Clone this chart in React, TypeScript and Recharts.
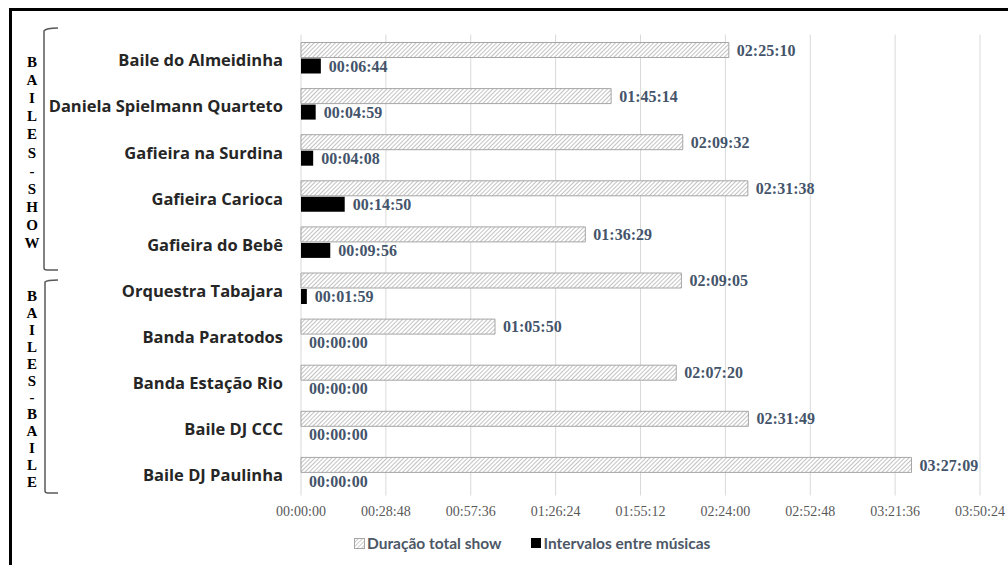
import { BarChart, Bar, XAxis, YAxis, CartesianGrid, LabelList } from 'recharts'

// ─── Data (seconds) ───────────────────────────────────────────────────────────

const categories = [
  'Baile do Almeidinha',
  'Daniela Spielmann Quarteto',
  'Gafieira na Surdina',
  'Gafieira Carioca',
  'Gafieira do Bebê',
  'Orquestra Tabajara',
  'Banda Paratodos',
  'Banda Estação Rio',
  'Baile DJ CCC',
  'Baile DJ Paulinha',
]

// Duração total show
const totalShow = [8710, 6314, 7772, 9098, 5789, 7745, 3950, 7640, 9109, 12429]
// Intervalos entre músicas
const intervals = [404, 299, 248, 890, 596, 119, 0, 0, 0, 0]

const xTicks = [0, 1728, 3456, 5184, 6912, 8640, 10368, 12096, 13824]

const groupShow = 'BAILES-SHOW'
const groupBaile = 'BAILES-BAILE'

// ─── Colours ──────────────────────────────────────────────────────────────────

const SLATE_BLUE = '#44546A'
const GRID = '#d9d9d9'
const TICK_GREY = '#595959'
const LABEL_INK = '#262626'
const LEGEND_INK = '#4d5766'

const rows = categories.map((name, i) => ({
  name,
  total: totalShow[i],
  interval: intervals[i],
}))

function hms(v: number): string {
  const s = Math.round(Number(v) || 0)
  const h = Math.floor(s / 3600)
  const m = Math.floor((s % 3600) / 60)
  const sec = s % 60
  const p = (n: number) => String(n).padStart(2, '0')
  return `${p(h)}:${p(m)}:${p(sec)}`
}

function XTick({ x, y, payload }: any) {
  return (
    <text x={x} y={y + 12} textAnchor="middle" fill={TICK_GREY}
      fontFamily="'Liberation Serif', serif" fontSize={14}>
      {hms(payload.value)}
    </text>
  )
}

function YTick({ y, payload }: any) {
  return (
    <text x={283} y={y + 3} dy="0.35em" textAnchor="end" fill={LABEL_INK}
      fontFamily="'Open Sans', sans-serif" fontWeight={700} fontSize={16.5}>
      {payload.value}
    </text>
  )
}

// value label drawn to the right of each bar, also for zero-length bars
function ValueLabel({ x, y, width, height, value }: any) {
  return (
    <text x={Number(x) + Number(width || 0) + 8} y={Number(y) + Number(height) / 2} dy="0.35em"
      fill={SLATE_BLUE} fontFamily="'Liberation Serif', serif" fontWeight={700} fontSize={16}>
      {hms(value)}
    </text>
  )
}

function GroupLetters({ text, top, pitch }: { text: string; top: number; pitch: number }) {
  return (
    <>
      {text.split('').map((ch, i) => (
        <div key={i} style={{
          position: 'absolute', left: 22, width: 20, top: top + i * pitch - 9,
          height: 18, lineHeight: '18px', textAlign: 'center',
          fontFamily: "'Liberation Serif', serif", fontWeight: 700, fontSize: 15, color: '#000',
        }}>
          {ch}
        </div>
      ))}
    </>
  )
}

export default function App() {
  return (
    <div style={{
      position: 'absolute', left: 0, top: 0, width: 1008, height: 565,
      background: '#fff', overflow: 'hidden',
    }}>
      {/* outer frame (cropped: only top and left visible) */}
      <div style={{ position: 'absolute', left: 9, top: 8, width: 1010, height: 570,
        borderLeft: '3px solid #000', borderTop: '3px solid #000' }} />

      <BarChart
        width={1008}
        height={565}
        data={rows}
        layout="vertical"
        margin={{ top: 34.5, right: 28, bottom: 39.5, left: 0 }}
        barSize={15}
        barGap={1}
        style={{ position: 'absolute', left: 0, top: 0 }}
      >
        <defs>
          <pattern id="hatch" width="3" height="3" patternUnits="userSpaceOnUse"
            patternTransform="rotate(45)">
            <rect width="3" height="3" fill="#fff" />
            <line x1="0" y1="0" x2="0" y2="3" stroke="#8f8f8f" strokeWidth="1.1" />
          </pattern>
        </defs>
        <CartesianGrid horizontal={false} stroke={GRID} />
        <XAxis
          type="number"
          domain={[0, 13824]}
          ticks={xTicks}
          interval={0}
          height={30}
          axisLine={false}
          tickLine={false}
          tick={<XTick />}
        />
        <YAxis
          type="category"
          dataKey="name"
          width={301}
          axisLine={false}
          tickLine={false}
          interval={0}
          tick={<YTick />}
        />
        <Bar dataKey="total" fill="url(#hatch)" stroke="#a6a6a6" strokeWidth={1} isAnimationActive={false}>
          <LabelList dataKey="total" content={<ValueLabel />} />
        </Bar>
        <Bar dataKey="interval" fill="#000" minPointSize={0.01} isAnimationActive={false}>
          <LabelList dataKey="interval" content={<ValueLabel />} />
        </Bar>
      </BarChart>

      {/* group brackets */}
      <svg width={1008} height={565} style={{ position: 'absolute', left: 0, top: 0, pointerEvents: 'none' }}>
        <path d="M58 28 Q46 28 44 31 L44 268 Q44 270 47 270 L58 270" fill="none" stroke="#595959" strokeWidth={1.5} />
        <path d="M58 280 Q47 280 45 282 L45 491 Q45 493 48 493 L58 493" fill="none" stroke="#595959" strokeWidth={1.5} />
      </svg>

      <GroupLetters text={groupShow} top={62} pitch={18.1} />
      <GroupLetters text={groupBaile} top={296} pitch={16.9} />

      {/* legend */}
      <div style={{
        position: 'absolute', top: 534, left: 354, height: 18,
        display: 'flex', alignItems: 'center',
        fontFamily: 'Lato, sans-serif', fontWeight: 700, fontSize: 15.5, color: LEGEND_INK,
      }}>
        <svg width={11} height={11} style={{ marginRight: 2 }}>
          <defs>
            <pattern id="hatchLegend" width="3" height="3" patternUnits="userSpaceOnUse" patternTransform="rotate(45)">
              <rect width="3" height="3" fill="#fff" />
              <line x1="0" y1="0" x2="0" y2="3" stroke="#9c9c9c" strokeWidth="1" />
            </pattern>
          </defs>
          <rect x={0.5} y={0.5} width={10} height={10} fill="url(#hatchLegend)" stroke="#a6a6a6" />
        </svg>
        <span>Duração total show</span>
        <div style={{ width: 10, height: 10, background: '#000', marginLeft: 30, marginRight: 2 }} />
        <span>Intervalos entre músicas</span>
      </div>
    </div>
  )
}
